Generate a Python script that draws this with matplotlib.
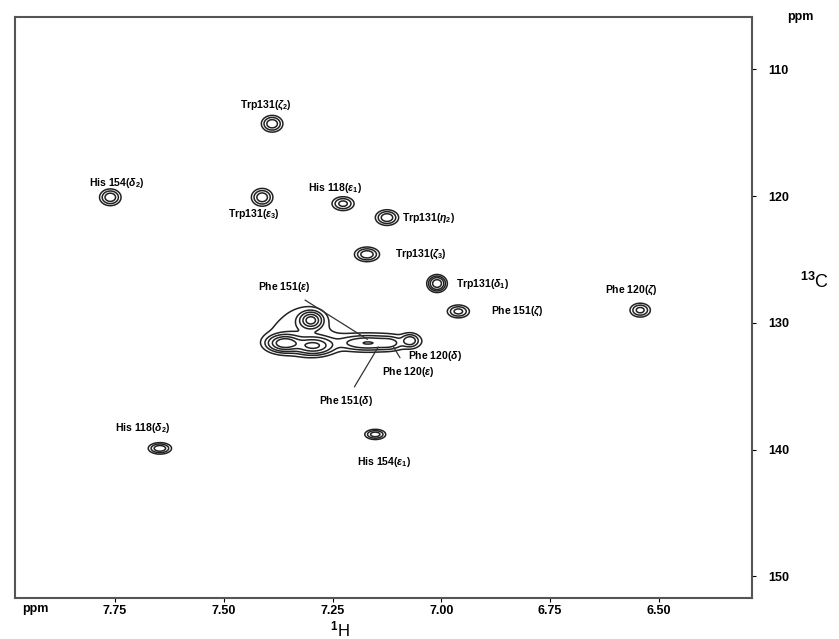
import numpy as np
import matplotlib
matplotlib.use("Agg")
import matplotlib.pyplot as plt

plt.rcParams['font.family'] = ['Liberation Sans', 'DejaVu Sans']
plt.rcParams['mathtext.fontset'] = 'custom'
plt.rcParams['mathtext.rm'] = 'Liberation Sans:bold'
plt.rcParams['mathtext.it'] = 'Liberation Sans:bold:italic'
plt.rcParams['mathtext.bf'] = 'Liberation Sans:bold'

# peak list: 1H shift, 13C shift, widths, relative intensity
peak_h = [7.389, 7.761, 7.412, 7.226, 7.125, 7.171, 7.010, 6.961, 6.543, 7.647, 7.152,
          7.300, 7.360, 7.295, 7.170, 7.072, 7.120, 7.330, 7.160, 7.310]
peak_c = [114.3, 120.1, 120.1, 120.6, 121.7, 124.6, 126.9, 129.1, 129.0, 139.9, 138.8,
          129.8, 131.6, 131.8, 131.6, 131.4, 131.6, 131.0, 131.5, 129.6]
peak_wh = [0.012, 0.012, 0.012, 0.013, 0.013, 0.014, 0.010, 0.013, 0.012, 0.013, 0.012,
           0.013, 0.020, 0.024, 0.034, 0.011, 0.015, 0.055, 0.075, 0.035]
peak_wc = [0.32, 0.32, 0.34, 0.28, 0.30, 0.28, 0.30, 0.26, 0.28, 0.22, 0.20,
           0.34, 0.34, 0.36, 0.30, 0.28, 0.27, 1.1, 0.5, 0.8]
peak_amp = [1.0, 1.0, 1.0, 0.8, 1.0, 1.0, 2.0, 0.8, 0.8, 1.0, 0.9,
            2.5, 3.0, 2.2, 1.0, 0.9, 0.5, 0.22, 0.25, 0.15]

labels = ['Trp131($\\zeta_2$)', 'His 154($\\delta_2$)', 'Trp131($\\varepsilon_3$)',
          'His 118($\\varepsilon_1$)', 'Trp131($\\eta_2$)', 'Trp131($\\zeta_3$)',
          'Trp131($\\delta_1$)', 'Phe 151($\\zeta$)', 'Phe 120($\\zeta$)',
          'His 118($\\delta_2$)', 'His 154($\\varepsilon_1$)']
label_h = [7.403, 7.747, 7.430, 7.244, 7.030, 7.048, 6.905, 6.825, 6.564, 7.686, 7.133]
label_c = [112.8, 119.0, 121.4, 119.4, 121.7, 124.6, 126.9, 129.1, 127.4, 138.3, 141.0]

# labels with leader lines into the crowded region
lead_labels = ['Phe 151($\\varepsilon$)', 'Phe 151($\\delta$)', 'Phe 120($\\delta$)', 'Phe 120($\\varepsilon$)']
lead_text_h = [7.36, 7.22, 7.015, 7.075]
lead_text_c = [127.2, 136.2, 132.6, 133.9]
lead_end_h = [7.17, 7.145, 7.065, 7.11]
lead_end_c = [131.3, 131.9, 131.6, 131.9]

H = np.linspace(6.286, 7.98, 900)
C = np.linspace(105.9, 151.7, 700)
HH, CC = np.meshgrid(H, C)
Z = np.zeros_like(HH)
for h0, c0, wh, wc, a in zip(peak_h, peak_c, peak_wh, peak_wc, peak_amp):
    Z += a * np.exp(-0.5 * ((HH - h0) / wh) ** 2 - 0.5 * ((CC - c0) / wc) ** 2)

fig = plt.figure(figsize=(8.39, 6.39), dpi=100)
ax = fig.add_axes([0.0179, 0.0642, 0.8784, 0.9088])
ax.contour(HH, CC, Z, levels=[0.12, 0.3, 0.6, 1.2, 2.0], colors='#222222', linewidths=1.1)

for t, x, y in zip(labels, label_h, label_c):
    ax.text(x, y, t, fontsize=7.5, fontweight='bold', ha='center', va='center')
for t, x, y, ex, ey in zip(lead_labels, lead_text_h, lead_text_c, lead_end_h, lead_end_c):
    ax.annotate(t, xy=(ex, ey), xytext=(x, y), fontsize=7.5, fontweight='bold',
                ha='center', va='center',
                arrowprops=dict(arrowstyle='-', color='#333333', lw=0.9, shrinkA=4, shrinkB=0))

ax.set_xlim(7.98, 6.286)
ax.set_ylim(151.7, 105.9)
ax.set_xticks([7.75, 7.50, 7.25, 7.00, 6.75, 6.50])
ax.set_xticklabels(['7.75', '7.50', '7.25', '7.00', '6.75', '6.50'])
ax.set_yticks([110, 120, 130, 140, 150])
ax.yaxis.tick_right()
ax.tick_params(axis='both', direction='out', length=3, width=0.8, labelsize=9)
for lab in ax.get_xticklabels() + ax.get_yticklabels():
    lab.set_fontweight('bold')
ax.tick_params(axis='y', pad=9)
ax.tick_params(axis='x', pad=2)
for s in ax.spines.values():
    s.set_color('#555555')
    s.set_linewidth(1.5)

fig.text(0.042, 0.047, 'ppm', fontsize=9, fontweight='bold', ha='center', va='center')
fig.text(0.954, 0.974, 'ppm', fontsize=9, fontweight='bold', ha='center', va='center')
fig.text(0.405, 0.0, '$^{1}$H', fontsize=12, ha='center', va='bottom')
fig.text(0.971, 0.558, '$^{13}$C', fontsize=13, ha='center', va='center')

fig.savefig('out.png', dpi=100)
